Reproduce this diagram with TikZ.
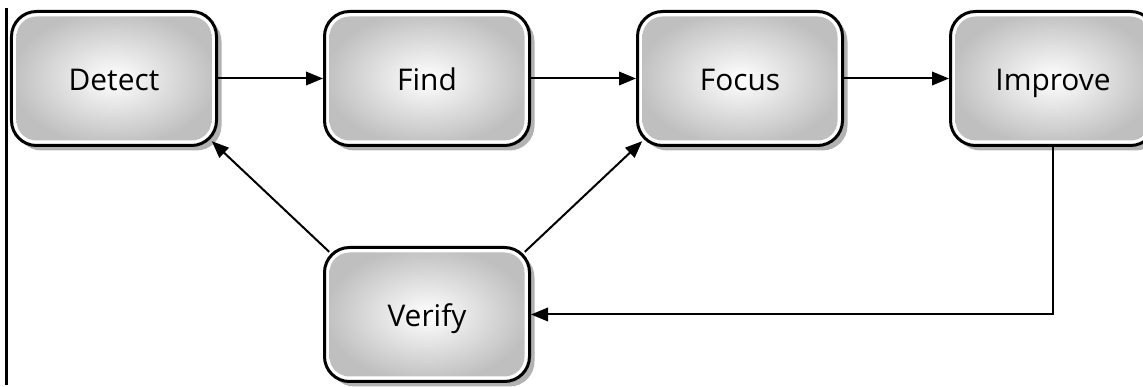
\documentclass[tikz,border=0pt]{standalone}
\usepackage{fontspec}
\setmainfont{Open Sans}
\usepackage{tikz}
\usetikzlibrary{arrows.meta,positioning,shadows}

\begin{document}
\begin{tikzpicture}[->,>={Triangle[length=0.34cm,width=0.27cm]},line width=0.04cm,node distance=1.98cm and 2.1cm,
	main node/.style={draw, line width=0.06cm, rounded corners=0.5cm, fill=white, minimum width=4.1cm, minimum height=2.68cm,
		font=\fontsize{17pt}{20pt}\selectfont, text height=0.5cm, text depth=0cm,
		drop shadow={shadow xshift=0.1cm, shadow yshift=-0.1cm, fill=black!30, opacity=1},
		path picture={\shade[inner color=white, outer color=black!25, rounded corners=0.4cm]
			([shift={(0.1cm,0.1cm)}]path picture bounding box.south west) rectangle
			([shift={(-0.1cm,-0.1cm)}]path picture bounding box.north east);}}]
			\useasboundingbox (-2.28,1.57) rectangle (20.58,-6.17);
			
			\node[main node] (1) {Detect};
			\node[main node] (2) [right=of 1]{Find};
			\node[main node] (3) [right=of 2]{Focus};
			\node[main node] (4) [right=of 3]{Improve};
			
			\node[main node] (5) [below=of 2]{Verify};
			
			% left rule
			\draw[-, line width=0.045cm] (-2.15,1.41) -- (-2.15,-6.13);
			
			\path
			(1) edge (2)
			(2) edge (3)
			(3) edge (4)
			
			(5.north west) edge [shorten <=-0.17cm, shorten >=-0.17cm] (1.south east)
			(5.north east) edge [shorten <=-0.17cm, shorten >=-0.17cm] (3.south west);
			
			\draw (4) |- (5);
			
			\end{tikzpicture}
\end{document}
